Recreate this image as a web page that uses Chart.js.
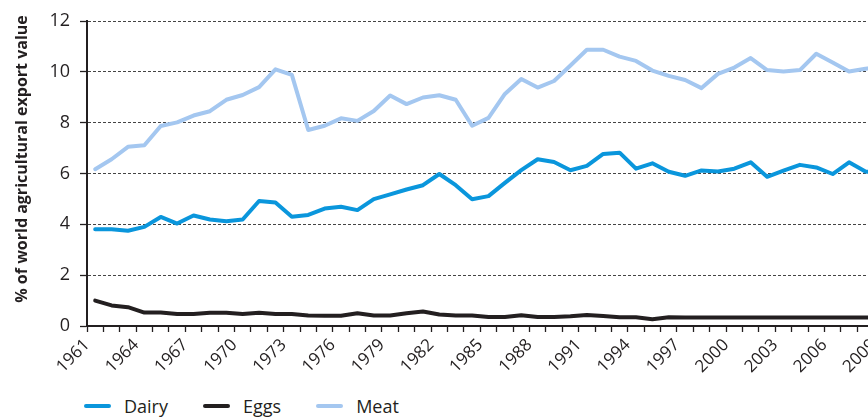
<!DOCTYPE html>
<html>
<head>
<meta charset="utf-8">
<script src="https://cdn.jsdelivr.net/npm/chart.js@4"></script>
<style>
  html, body { margin: 0; padding: 0; background: #fff; overflow: hidden; }
  #wrap { position: relative; width: 900px; height: 388px; }
  #legend { position: absolute; left: 84px; top: 394px; display: flex; align-items: center;
            font-family: 'Open Sans', sans-serif; font-size: 18px; color: #231f20; }
  .item { display: flex; align-items: center; margin-right: 35px; }
  .swatch { width: 27px; height: 4px; border-radius: 2px; margin-right: 13px; }
</style>
</head>
<body>
<div id="wrap"><canvas id="chart"></canvas></div>
<div id="legend"></div>
<script>
const years = ['1961', '1962', '1963', '1964', '1965', '1966', '1967', '1968', '1969', '1970',
  '1971', '1972', '1973', '1974', '1975', '1976', '1977', '1978', '1979', '1980',
  '1981', '1982', '1983', '1984', '1985', '1986', '1987', '1988', '1989', '1990',
  '1991', '1992', '1993', '1994', '1995', '1996', '1997', '1998', '1999', '2000',
  '2001', '2002', '2003', '2004', '2005', '2006', '2007', '2008', '2009'];
const shownYears = ['1961', '1964', '1967', '1970', '1973', '1976', '1979', '1982', '1985',
  '1988', '1991', '1994', '1997', '2000', '2003', '2006', '2009'];

const dairy = [3.81, 3.81, 3.75, 3.9, 4.29, 4.03, 4.35, 4.19, 4.12, 4.19,
  4.92, 4.86, 4.3, 4.37, 4.62, 4.69, 4.56, 4.99, 5.18, 5.37,
  5.54, 5.98, 5.54, 4.99, 5.11, 5.63, 6.13, 6.56, 6.45, 6.13,
  6.3, 6.77, 6.82, 6.19, 6.4, 6.07, 5.91, 6.12, 6.08, 6.19,
  6.44, 5.87, 6.11, 6.34, 6.24, 5.98, 6.44, 6.08, 6.0];
const eggs = [1.0, 0.81, 0.74, 0.53, 0.53, 0.47, 0.47, 0.52, 0.52, 0.47,
  0.52, 0.47, 0.47, 0.41, 0.4, 0.4, 0.5, 0.41, 0.41, 0.5,
  0.57, 0.45, 0.41, 0.41, 0.35, 0.35, 0.42, 0.35, 0.35, 0.38,
  0.43, 0.39, 0.34, 0.34, 0.27, 0.34, 0.33, 0.33, 0.33, 0.33,
  0.33, 0.33, 0.33, 0.33, 0.33, 0.33, 0.33, 0.33, 0.33];
const meat = [6.17, 6.56, 7.05, 7.11, 7.87, 8.01, 8.28, 8.45, 8.9, 9.09,
  9.4, 10.1, 9.88, 7.71, 7.88, 8.17, 8.07, 8.46, 9.07, 8.73,
  8.99, 9.08, 8.9, 7.88, 8.19, 9.13, 9.72, 9.38, 9.64, 10.25,
  10.87, 10.87, 10.6, 10.43, 10.05, 9.84, 9.68, 9.36, 9.92, 10.17,
  10.54, 10.07, 10.01, 10.07, 10.71, 10.37, 10.01, 10.12, 10.2];

const seriesNames = ['Dairy', 'Eggs', 'Meat'];
const seriesColors = ['#0a96dc', '#231f20', '#a4c7f0'];

const ink = '#231f20';
Chart.defaults.font.family = "'Open Sans', sans-serif";
Chart.defaults.color = ink;

const ctx = document.getElementById('chart');
const chart = new Chart(ctx, {
  type: 'line',
  data: {
    labels: years,
    datasets: [dairy, eggs, meat].map((values, i) => ({
      label: seriesNames[i],
      data: values,
      borderColor: seriesColors[i],
      backgroundColor: seriesColors[i],
      borderWidth: 4,
      pointRadius: 0,
      tension: 0,
      borderJoinStyle: 'round',
      borderCapStyle: 'round',
      fill: false
    }))
  },
  options: {
    responsive: true,
    maintainAspectRatio: false,
    animation: false,
    layout: { padding: { top: 21, right: 10, bottom: 2, left: 0 } },
    plugins: {
      legend: { display: false },
      title: { display: false },
      tooltip: { enabled: false }
    },
    scales: {
      x: {
        type: 'category',
        offset: true,
        grid: {
          offset: true,
          drawOnChartArea: false,
          drawTicks: true,
          tickLength: 6,
          tickColor: ink,
          tickWidth: 1.3
        },
        border: { color: ink, width: 2 },
        ticks: {
          autoSkip: false,
          minRotation: 45,
          maxRotation: 45,
          labelOffset: -8.2,
          padding: 3,
          font: { size: 17 },
          color: ink,
          callback: function (value) {
            const year = this.getLabelForValue(value);
            return shownYears.includes(year) ? year : '';
          }
        },
        afterFit: (scale) => { scale.height = 60; }
      },
      y: {
        min: 0,
        max: 12,
        grid: {
          color: '#444',
          lineWidth: 1,
          drawTicks: true,
          tickLength: 7,
          tickColor: ink,
          tickWidth: 1.3,
          tickBorderDash: []
        },
        border: { color: ink, width: 2, dash: [3, 2] },
        ticks: { stepSize: 2, padding: 10, font: { size: 18 }, color: ink },
        title: {
          display: true,
          // leading spaces lift the title a little above the axis centre, as in the original
          text: '       % of world agricultural export value',
          font: { size: 16, weight: 'bold' },
          color: ink,
          padding: { top: 13, bottom: 0 }
        },
        afterFit: (scale) => { scale.width = 87; }
      }
    }
  }
});

// legend drawn as html under the canvas
const legend = document.getElementById('legend');
seriesNames.forEach((name, i) => {
  const item = document.createElement('div');
  item.className = 'item';
  item.innerHTML = '<span class="swatch" style="background:' + seriesColors[i] + '"></span>' + name;
  legend.appendChild(item);
});
</script>
</body>
</html>
